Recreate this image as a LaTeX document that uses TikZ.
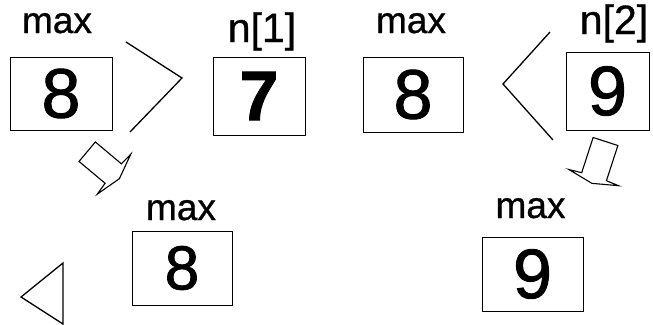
\documentclass[tikz,border=0pt]{standalone}
\usepackage{fontspec}
\setmainfont{Liberation Sans}
\newfontfamily\heavyfont{Liberation Sans}[FakeBold=1.3]
\newfontfamily\labelfont{Liberation Sans}[FakeBold=0.8]
\usetikzlibrary{positioning}
\tikzset{
  value box/.style={draw,line width=0.8pt,minimum width=100pt,minimum height=74pt,
    inner sep=0pt,font=\heavyfont\fontsize{70}{70}\selectfont},
  var label/.style={anchor=base,inner sep=0pt,font=\labelfont\fontsize{37}{37}\selectfont},
  compare mark/.style={line width=1.3pt,line join=miter},
  flow arrow/.style={line width=1.1pt,line join=miter,fill=white}
}
\begin{document}
\begin{tikzpicture}[x=1pt,y=-1pt]
\useasboundingbox (0,0) rectangle (653,324);
% top row: max > n[1], max < n[2]
\node[value box,minimum width=102pt,minimum height=73pt] (max1) at (61,93.5) {8};
\node[value box,minimum width=92pt,minimum height=78pt] (n1) at (259,96) {\bfseries 7};
\node[value box,minimum height=75pt] (max2) at (413,94.5) {8};
\node[value box,minimum width=83pt,minimum height=78pt] (n2) at (607.5,91) {9};
\node[var label] (lmax1) at (57,33) {max};
\node[var label,font=\labelfont\fontsize{41}{41}\selectfont] (ln1) at (262,42) {n[1]};
\node[var label] (lmax2) at (411,33) {max};
\node[var label,font=\labelfont\fontsize{41}{41}\selectfont] (ln2) at (614,34) {n[2]};
\draw[compare mark] (126,42) -- (182,78) -- (130,132);
\draw[compare mark] (550,32) -- (503,84) -- (553,140);
% results
\node[value box,font=\heavyfont\fontsize{62}{62}\selectfont] (max3) at (182,268) {8};
\node[value box,minimum width=101pt] (max4) at (532.5,274) {9};
\node[var label] (lmax3) at (181,220) {max};
\node[var label] (lmax4) at (530.5,218) {max};
\draw[flow arrow,shift={(87.2,151.7)},rotate=-40]
  (0,-12.7) -- (34,-12.7) -- (35,-26) -- (42,0) -- (35,26) -- (34,12.7) -- (0,12.7) -- cycle;
\draw[flow arrow,shift={(605.5,141.5)},rotate=-108]
  (0,-13) -- (37,-13) -- (38,-26) -- (44,0) -- (38,26) -- (37,13) -- (0,13) -- cycle;
\draw[compare mark] (63,324) -- (21,297) -- (63,263) -- cycle;
\end{tikzpicture}
\end{document}
